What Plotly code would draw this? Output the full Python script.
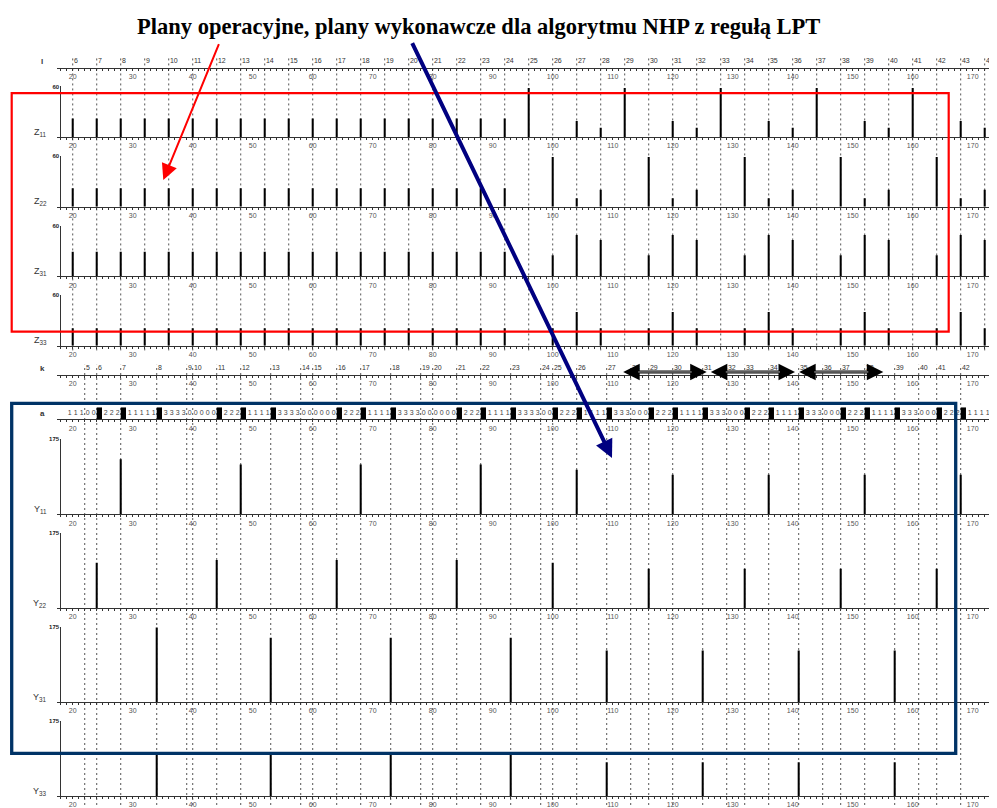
import plotly.graph_objects as go

# page geometry: the browser adds an 8px body margin, so the figure is
# drawn 8px smaller and every pixel position is measured from that offset
OFF = 8
W, H = 997 - OFF, 808 - OFF

TITLE = "Plany operacyjne, plany wykonawcze dla algorytmu NHP z regułą LPT"

# ---- shared time axis ----
T_RANGE = [17.43, 174.05]
T_TICKS = [20, 30, 40, 50, 60, 70, 80, 90, 100, 110, 120, 130, 140, 150, 160, 170]

# ---- operational plans (grid l) ----
l_times = [20, 24, 28, 32, 36, 40, 44, 48, 52, 56, 60, 64, 68, 72, 76, 80, 84, 88, 92,
           96, 100, 104, 108, 112, 116, 120, 124, 128, 132, 136, 140, 144, 148, 152, 156,
           160, 164, 168, 172]
l_labels = ["6", "7", "8", "9", "10", "11", "12", "13", "14", "15", "16", "17", "18", "19",
            "20", "21", "22", "23", "24", "25", "26", "27", "28", "29", "30", "31", "32",
            "33", "34", "35", "36", "37", "38", "39", "40", "41", "42", "43", "44"]

z11 = [22, 22, 22, 22, 22, 22, 22, 22, 22, 22, 22, 22, 22, 22, 22, 22, 22, 22, 22,
       58, 0, 19, 11, 58, 0, 19, 11, 58, 0, 19, 11, 58, 0, 19, 11, 58, 0, 19, 11]
z22 = [22, 22, 22, 22, 22, 22, 22, 22, 22, 22, 22, 22, 22, 22, 22, 22, 22, 22, 22,
       0, 59, 10, 20, 0, 59, 10, 20, 0, 59, 10, 20, 0, 59, 10, 20, 0, 59, 10, 20]
z31 = [29, 29, 29, 29, 29, 29, 29, 29, 29, 29, 29, 29, 29, 29, 29, 29, 29, 29, 29,
       0, 25, 49, 43, 0, 25, 49, 43, 0, 25, 49, 43, 0, 25, 49, 43, 0, 25, 49, 43]
z33 = [21, 21, 21, 21, 21, 21, 21, 21, 21, 21, 21, 21, 21, 21, 21, 21, 21, 21, 21,
       0, 21, 40, 21, 0, 21, 40, 21, 0, 21, 40, 21, 0, 21, 40, 21, 0, 21, 40, 21]

# ---- execution plans (grid k) ----
k_times = [22, 24, 28, 34, 39, 40, 44, 48, 53, 58, 60, 64, 68, 73, 78, 80, 84, 88, 93, 98,
           100, 104, 109, 113, 116, 120, 125, 129, 132, 136, 141, 145, 148, 152, 157, 161,
           164, 168, 173]
k_labels = ["5", "6", "7", "8", "9", "10", "11", "12", "13", "14", "15", "16", "17", "18",
            "19", "20", "21", "22", "23", "24", "25", "26", "27", "28", "29", "30", "31",
            "32", "33", "34", "35", "36", "37", "38", "39", "40", "41", "42", "43"]

a_start = 19
a_states = list("11100B222B11111B333300000B222B1111B3333000000B222B1111B3333000000"
                "B222B1111B333300B222B1111B333000B222B1111B333000B222B1111B333000"
                "B222B1111B333000B222B1111B")

y_times_1 = [28, 48, 68, 88, 104, 120, 136, 152, 168]
y11 = [128, 116, 116, 116, 104, 92, 92, 92, 92]
y_times_2 = [24, 44, 64, 84, 100, 116, 132, 148, 164]
y22 = [106, 112, 112, 112, 106, 92, 92, 92, 92]
y_times_3 = [34, 53, 73, 93, 109, 125, 141, 157, 173]
y31 = [174, 150, 150, 150, 120, 120, 120, 120, 120]
y33 = [100, 100, 100, 100, 79, 79, 79, 79, 79]

# ---- helpers / styling ----
SANS = "Liberation Sans"
SERIF = "Liberation Serif"
AX = "#333333"


def fx(p):
    return (p - OFF) / W


def fy(p):
    return 1 - (p - OFF) / H


XD0 = fx(57.3)
YPOS = fx(60.3)

# name, bottom px, top px, y max (None = no y axis), label
rows = [
    ("l", 65, 55, None, "l"),
    ("z11", 135, 84, 60, "Z<sub>11</sub>"),
    ("z22", 205.2, 154.2, 60, "Z<sub>22</sub>"),
    ("z31", 275.3, 224.3, 60, "Z<sub>31</sub>"),
    ("z33", 345.4, 294.4, 60, "Z<sub>33</sub>"),
    ("k", 374.3, 364.3, None, "k"),
    ("a", 419.3, 407.3, None, "a"),
    ("y11", 515.3, 439.3, 175, "Y<sub>11</sub>"),
    ("y22", 609.6, 534.0, 175, "Y<sub>22</sub>"),
    ("y31", 704.3, 628.7, 175, "Y<sub>31</sub>"),
    ("y33", 799.0, 723.5, 175, "Y<sub>33</sub>"),
]
label_y = {"l": 59, "k": 368.5, "a": 413.3}

fig = go.Figure()
layout_axes = {}
annotations = []
row_ref = {}
for i, (name, bot, top, ymax, lab) in enumerate(rows, start=1):
    xa = "xaxis" if i == 1 else f"xaxis{i}"
    ya = "yaxis" if i == 1 else f"yaxis{i}"
    xr = "x" if i == 1 else f"x{i}"
    yr = "y" if i == 1 else f"y{i}"
    row_ref[name] = (xr, yr)
    layout_axes[xa] = dict(
        domain=[XD0, 1], range=T_RANGE, anchor=yr, showline=True, linecolor=AX, linewidth=1,
        tickmode="array", tickvals=T_TICKS, ticks="outside", ticklen=2, tickcolor=AX,
        minor=dict(tickmode="linear", tick0=0, dtick=1, ticks="outside", ticklen=2,
                   tickcolor=AX),
        showgrid=False, zeroline=False, fixedrange=True,
        tickfont=dict(family=SANS, size=7, color="#555555"))
    if ymax is None:
        layout_axes[ya] = dict(domain=[fy(bot), fy(top)], range=[0, 1], visible=False,
                               anchor="free", position=YPOS, fixedrange=True)
        annotations.append(dict(x=fx(42), y=fy(label_y[name]), xref="paper", yref="paper",
                                xanchor="center", yanchor="middle", text=f"<b>{lab}</b>",
                                showarrow=False, font=dict(family=SANS, size=8, color="#333")))
    else:
        layout_axes[ya] = dict(domain=[fy(bot), fy(top)], range=[0, ymax], anchor="free",
                               position=YPOS, showline=True, linecolor=AX, linewidth=1,
                               tickmode="array", tickvals=[ymax], ticktext=[f"<b>{ymax}</b>"],
                               ticks="", showgrid=False, zeroline=False, fixedrange=True,
                               tickfont=dict(family=SANS, size=6, color="#222"))
        annotations.append(dict(x=fx(49), y=fy(bot - 5), xref="paper", yref="paper",
                                xanchor="right", yanchor="middle", text=lab, showarrow=False,
                                font=dict(family=SANS, size=9, color="#333")))

# ---- bars ----
def add_bars(name, xs, ys):
    xr, yr = row_ref[name]
    fig.add_trace(go.Bar(x=xs, y=ys, width=0.34, marker=dict(color="black", line=dict(width=0)),
                         xaxis=xr, yaxis=yr, hoverinfo="skip"))


add_bars("z11", l_times, z11)
add_bars("z22", l_times, z22)
add_bars("z31", l_times, z31)
add_bars("z33", l_times, z33)
add_bars("y11", y_times_1, y11)
add_bars("y22", y_times_2, y22)
add_bars("y31", y_times_3, y31)
add_bars("y33", y_times_3, y33)

# ---- state row a ----
xr, yr = row_ref["a"]
blk_x = [a_start + j + 0.44 for j, s in enumerate(a_states) if s == "B"]
fig.add_trace(go.Bar(x=blk_x, y=[1] * len(blk_x), width=0.88,
                     marker=dict(color="black", line=dict(width=0)),
                     xaxis=xr, yaxis=yr, hoverinfo="skip"))
dig_x = [a_start + j + 0.5 for j, s in enumerate(a_states) if s != "B"]
dig_t = [s for s in a_states if s != "B"]
fig.add_trace(go.Scatter(x=dig_x, y=[0.5] * len(dig_x), text=dig_t, mode="text",
                         textfont=dict(family=SANS, size=7, color="#444"),
                         xaxis=xr, yaxis=yr, hoverinfo="skip"))

# ---- grid labels (l and k) as text traces ----
xr, yr = row_ref["l"]
fig.add_trace(go.Scatter(x=[t + 0.2 for t in l_times], y=[0.67] * len(l_times), text=l_labels,
                         mode="text", textposition="middle right", cliponaxis=False,
                         textfont=dict(family=SANS, size=7, color="#333"),
                         xaxis=xr, yaxis=yr, hoverinfo="skip"))
xr, yr = row_ref["k"]
fig.add_trace(go.Scatter(x=[t + 0.2 for t in k_times], y=[0.6] * len(k_times), text=k_labels,
                         mode="text", textposition="middle right", cliponaxis=False,
                         textfont=dict(family=SANS, size=7, color="#333"),
                         xaxis=xr, yaxis=yr, hoverinfo="skip"))

# ---- dashed grid lines ----
shapes = []
for t in l_times:
    shapes.append(dict(type="line", xref="x", yref="paper", x0=t, x1=t, y0=fy(350), y1=fy(53.3),
                       line=dict(color="#555", width=1, dash="2px,3px"), layer="below"))
for t in k_times:
    shapes.append(dict(type="line", xref="x", yref="paper", x0=t, x1=t, y0=0, y1=fy(364.5),
                       line=dict(color="#555", width=1, dash="2px,3px"), layer="below"))

# highlight frames
shapes.append(dict(type="rect", xref="paper", yref="paper", x0=fx(11.7), x1=fx(948.7),
                   y0=fy(331), y1=fy(90.7), line=dict(color="#ff0000", width=2.2), layer="above"))
shapes.append(dict(type="rect", xref="paper", yref="paper", x0=fx(11.7), x1=fx(955.7),
                   y0=fy(756), y1=fy(403.3), line=dict(color="#003366", width=3.3), layer="above"))

# title
annotations.append(dict(x=fx(478.5), y=fy(24), xref="paper", yref="paper",
                        xanchor="center", yanchor="middle",
                        text=f"<b>{TITLE}</b>", showarrow=False,
                        font=dict(family=SERIF, size=22.5, color="black")))

# black double arrows in k row
for xs, xe in [(621.7, 706.7), (709.3, 795.0), (797.7, 883.3)]:
    annotations.append(dict(x=fx(xe), y=fy(371.7), xref="paper", yref="paper", text="",
                            ax=xs - xe, ay=0, showarrow=True, arrowside="end+start",
                            arrowhead=2, startarrowhead=2, arrowwidth=3, arrowsize=1.1,
                            startarrowsize=1.1, arrowcolor="black"))
    annotations.append(dict(x=fx(xe - 15), y=fy(371.7), xref="paper", yref="paper", text="",
                            ax=(xs + 15) - (xe - 15), ay=0, showarrow=True, arrowhead=0,
                            arrowwidth=0.8, arrowcolor="#dddddd"))

# pointer arrows
annotations.append(dict(x=fx(163.3), y=fy(178.3), xref="paper", yref="paper", text="",
                        ax=219.5 - 163.3, ay=41 - 178.3, showarrow=True, arrowhead=2,
                        arrowwidth=2, arrowsize=1.6, arrowcolor="#ff0000"))
annotations.append(dict(x=fx(612), y=fy(458.3), xref="paper", yref="paper", text="",
                        ax=411.5 - 612, ay=42 - 458.3, showarrow=True, arrowhead=2,
                        arrowwidth=4, arrowsize=0.9, arrowcolor="#000080"))

fig.update_layout(
    width=W, height=H, margin=dict(l=0, r=0, t=0, b=0),
    paper_bgcolor="white", plot_bgcolor="white", showlegend=False, barmode="overlay",
    shapes=shapes, annotations=annotations, **layout_axes)

fig.write_html("out.html")
